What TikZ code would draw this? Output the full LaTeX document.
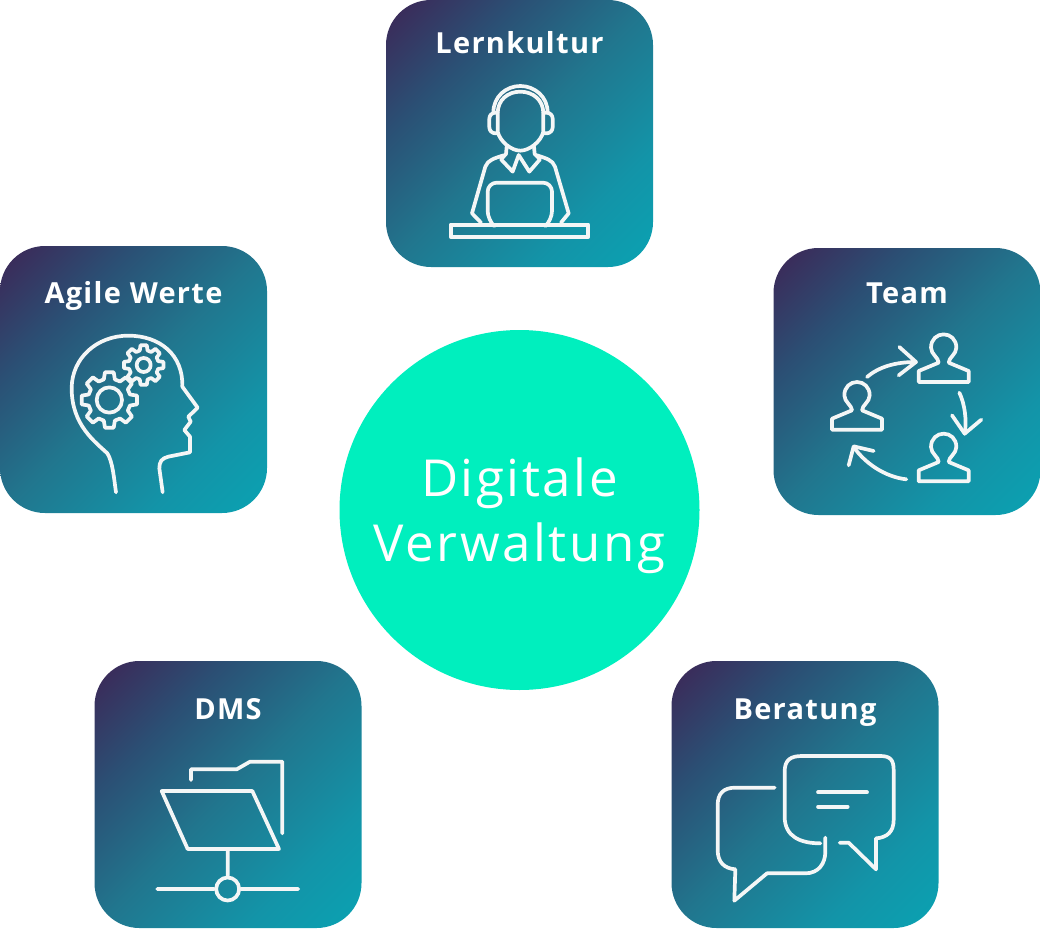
\documentclass[tikz,border=0pt]{standalone}
\usepackage{fontspec}
\setmainfont{Open Sans}
\newfontfamily\boxfont[LetterSpace=4.5]{Open Sans}
\newfontfamily\hubfont[LetterSpace=5]{Open Sans}
\usepackage{xcolor}
\usepackage{tikz}
\usetikzlibrary{calc}

\definecolor{boxdark}{HTML}{3D2656}
\definecolor{boxdeep}{HTML}{2B4F74}
\definecolor{boxmid}{HTML}{21768E}
\definecolor{boxsoft}{HTML}{1394A8}
\definecolor{boxlight}{HTML}{0AA2B2}
\definecolor{hubgreen}{HTML}{00EFBE}
\definecolor{iconwhite}{HTML}{F4F6F6}

\pgfdeclareverticalshading{boxshade}{100bp}{color(0bp)=(boxlight); color(15bp)=(boxlight); color(30bp)=(boxsoft); color(50bp)=(boxmid); color(68bp)=(boxdeep); color(85bp)=(boxdark); color(100bp)=(boxdark)}

\tikzset{
  box/.style={rectangle,rounded corners=45pt,inner sep=0pt,minimum size=267pt,shading=boxshade,shading angle=45},
  hub/.style={circle,inner sep=0pt,minimum size=360pt,fill=hubgreen},
  boxtitle/.style={anchor=base,text=white,font=\boxfont\fontsize{29}{36}\selectfont\bfseries},
  hubtitle/.style={anchor=base,text=white,font=\hubfont\fontsize{51}{60}\selectfont},
  icon/.style={draw=iconwhite,line width=3.7pt,line cap=round,line join=round},
}

% one head and shoulders of the team icon, #1 = top of the head
\newcommand{\teamperson}[1]{
\draw [icon] ($#1+(-15,85)$) .. controls ($#1+(-15,70)$) and ($#1+(-38,60)$) .. ($#1+(-38,40)$)
  .. controls ($#1+(-38,15)$) and ($#1+(-20,0)$) .. #1
  .. controls ($#1+(20,0)$) and ($#1+(38,15)$) .. ($#1+(38,40)$)
  .. controls ($#1+(38,60)$) and ($#1+(15,70)$) .. ($#1+(15,85)$)
  -- ($#1+(75,110)$) -- ($#1+(75,143)$) -- ($#1+(-75,143)$) -- ($#1+(-75,110)$) -- cycle;
}

% a gear of the head icon, #1 = centre, #2 = tooth radius, #3 = root radius, #4 = hole radius
\newcommand{\headgear}[4]{
\draw [icon] ($#1+(-9:#2)$)
  \foreach \a in {0,45,...,315} {
    -- ($#1+(\a-9:#2)$) -- ($#1+(\a+9:#2)$) -- ($#1+(\a+15:#3)$) -- ($#1+(\a+30:#3)$)
  } -- cycle;
\draw [icon] #1 circle (#4);
}

\begin{document}
\begin{tikzpicture}[x=1pt, y=-1pt]

\useasboundingbox (0,0) rectangle (1040,928);

\node (hubnode) at (519.5,510) [hub] {};
\node (hubtop) at (519.5,496) [hubtitle] {Digitale};
\node (hubbottom) at (519.5,561) [hubtitle] {Verwaltung};

\node (lernkultur) at (519.5,133.5) [box] {};
\node (agile) at (133.5,379.5) [box] {};
\node (team) at (907,381.5) [box] {};
\node (dms) at (228,794.5) [box] {};
\node (beratung) at (805,794.5) [box] {};

\node (lernkulturtitle) at (519.5,54) [boxtitle] {Lernkultur};
\node (agiletitle) at (133.5,303) [boxtitle] {Agile Werte};
\node (teamtitle) at (907,303) [boxtitle] {Team};
\node (dmstitle) at (228,719) [boxtitle] {DMS};
\node (beratungtitle) at (805,719) [boxtitle] {Beratung};

% Lernkultur
\begin{scope}[shift={(386,0)}, scale=1/3]
\draw [icon] (322,338) .. controls (322,290) and (360,258) .. (403,258) .. controls (446,258) and (485,290) .. (485,338);
\draw [icon] (335,395) -- (335,340) .. controls (335,300) and (365,275) .. (403,275) .. controls (441,275) and (472,300) .. (472,340) -- (472,395)
  .. controls (465,425) and (430,452) .. (403,452) .. controls (376,452) and (342,425) .. (335,395);
\draw [icon, rounded corners=6pt] (335,338) -- (310,338) -- (310,400) -- (335,400);
\draw [icon, rounded corners=6pt] (472,338) -- (500,338) -- (500,400) -- (472,400);
\draw [icon] (362,440) -- (360,462) -- (345,478) -- (380,515) -- (398,465) -- (430,515) -- (462,478) -- (446,462) -- (444,440);
\draw [icon] (353,466) .. controls (325,475) and (305,480) .. (298,500) -- (258,640) -- (285,668);
\draw [icon] (453,466) .. controls (480,475) and (500,480) .. (507,500) -- (548,640) -- (525,668);
\draw [icon, rounded corners=9pt] (318,672) -- (305,660) -- (305,548) -- (498,548) -- (498,660) -- (485,672);
\draw [icon] (194,674) rectangle (607,711);
\end{scope}

% Agile Werte
\begin{scope}[shift={(0,245)}, scale=1/3]
\draw [icon] (348,742) .. controls (342,700) and (338,650) .. (322,625) .. controls (285,590) and (215,540) .. (215,430)
  .. controls (215,340) and (290,272) .. (385,272) .. controls (480,272) and (550,330) .. (547,425)
  -- (593,488) -- (565,515) -- (572,530) -- (553,555) -- (570,575) -- (570,622) -- (505,635)
  .. controls (485,640) and (478,650) .. (478,670) -- (488,742);
\headgear{(328,465)}{84}{64}{38}
\headgear{(431,360)}{60}{45}{21}
\end{scope}

% Team
\begin{scope}[shift={(772,247)}, scale=1/3]
\teamperson{(515,262)}
\teamperson{(255,405)}
\teamperson{(515,560)}
\draw [icon] (285,390) .. controls (320,360) and (370,345) .. (430,345);
\draw [icon] (382,300) -- (432,345) -- (380,385);
\draw [icon] (562,437) .. controls (578,470) and (585,520) .. (578,560);
\draw [icon] (540,505) -- (578,560) -- (628,518);
\draw [icon] (403,697) .. controls (340,690) and (280,650) .. (245,600);
\draw [icon] (230,655) -- (245,598) -- (305,612);
\end{scope}

% DMS
\begin{scope}[shift={(95,660)}, scale=1/3]
\draw [icon] (288,360) -- (288,328) -- (425,328) -- (465,305) -- (562,305) -- (562,520);
\draw [icon] (200,393) -- (472,393) -- (552,567) -- (278,567) -- cycle;
\node (dmshub) at (398,687) [circle,inner sep=0pt,minimum size=23pt,draw=iconwhite,line width=3.7pt] {};
\coordinate (dmsleft) at (187,687);
\coordinate (dmsright) at (610,687);
\coordinate (dmsstem) at (398,567);
\draw [icon] (dmsstem) -- (dmshub);
\draw [icon] (dmsleft) -- (dmshub);
\draw [icon] (dmsright) -- (dmshub);
\end{scope}

% Beratung
\begin{scope}[shift={(672,660)}, scale=1/3]
\draw [icon] (445,550) .. controls (385,550) and (338,530) .. (338,470) -- (338,335)
  .. controls (338,300) and (355,288) .. (390,288) -- (625,288) .. controls (655,288) and (665,300) .. (665,330)
  -- (665,480) .. controls (665,515) and (645,533) .. (612,535) -- (612,628) -- (530,548) -- (503,548);
\draw [icon] (308,383) -- (190,383) .. controls (155,383) and (137,400) .. (137,435) -- (137,570)
  .. controls (137,605) and (155,625) .. (190,628) -- (187,722) -- (285,640) -- (400,640)
  .. controls (440,640) and (460,610) .. (460,575) -- (460,533);
\draw [icon] (438,397) -- (585,397);
\draw [icon] (438,440) -- (527,440);
\end{scope}

\end{tikzpicture}
\end{document}
